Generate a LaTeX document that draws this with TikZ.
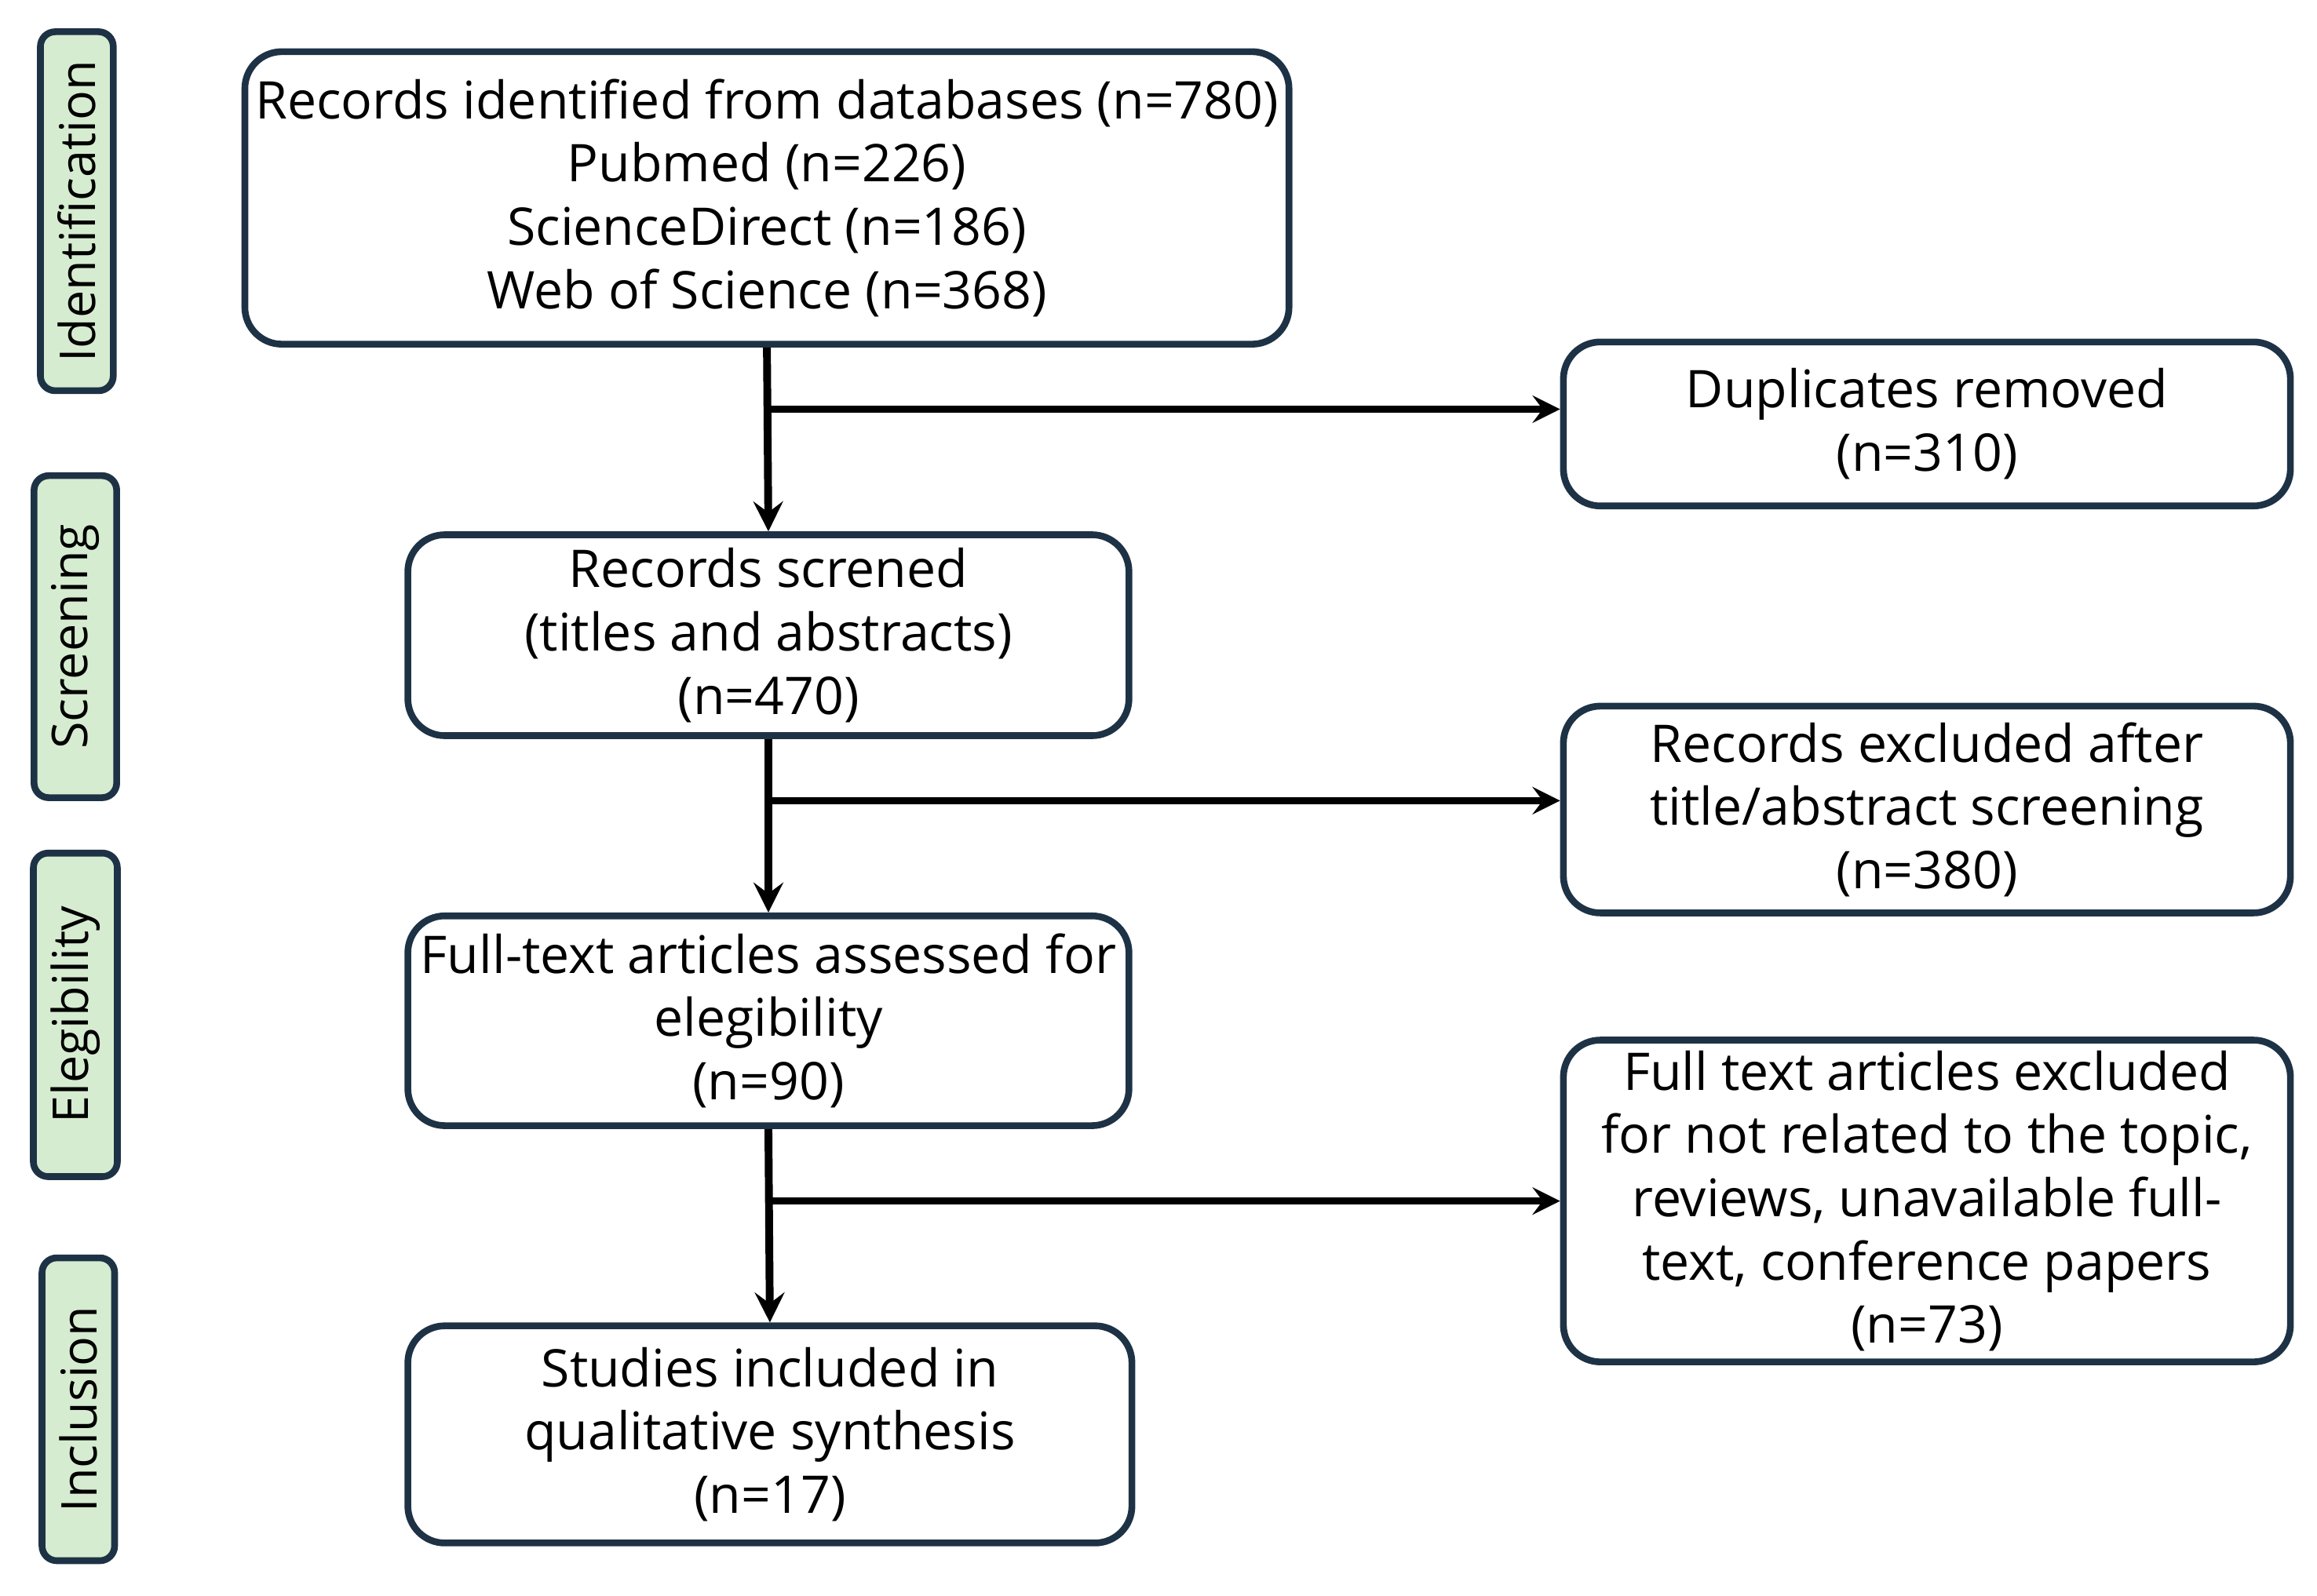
\documentclass[tikz,border=0pt]{standalone}
\usepackage{fontspec}
\setmainfont{Open Sans}
\usepackage{xcolor}
\definecolor{box-line}{RGB}{30,50,70}
\definecolor{phase-fill}{RGB}{214,236,208}
\usetikzlibrary{calc}

\tikzset{
	stagebox/.style={draw=box-line,line width=1.3pt,rounded corners=0.25cm,fill=white,
		align=center,inner sep=2pt,font=\fontsize{10}{12.2}\selectfont},
	phasebox/.style={draw=box-line,line width=1.3pt,rounded corners=0.1cm,fill=phase-fill,
		minimum width=0.73cm,font=\fontsize{9.5}{11}\selectfont,rotate=90},
}

\begin{document}
\begin{tikzpicture}[>=stealth,x=1cm,y=1cm]
	\useasboundingbox (0,0) rectangle (15.68,10.80);
	
	% main column
	\node[stagebox,minimum width=6.98cm,minimum height=1.98cm] (ident) at (5.19,9.46)
		{Records identified from databases (n=780)\\Pubmed (n=226)\\ScienceDirect (n=186)\\Web of Science (n=368)};
	\node[stagebox,minimum width=4.88cm,minimum height=1.36cm] (screen) at (5.20,6.50)
		{Records screned\\(titles and abstracts)\\(n=470)};
	\node[stagebox,minimum width=4.88cm,minimum height=1.42cm] (elig) at (5.20,3.89)
		{Full-text articles assessed for\\elegibility\\(n=90)};
	\node[stagebox,minimum width=4.90cm,minimum height=1.47cm] (incl) at (5.21,1.09)
		{Studies included in\\qualitative synthesis\\(n=17)};
	
	% excluded column
	\node[stagebox,minimum width=4.92cm,minimum height=1.11cm] (dupl) at (13.04,7.93)
		{Duplicates removed\\(n=310)};
	\node[stagebox,minimum width=4.92cm,minimum height=1.40cm] (excl) at (13.04,5.32)
		{Records excluded after\\title/abstract screening\\(n=380)};
	\node[stagebox,minimum width=4.92cm,minimum height=2.17cm] (fexcl) at (13.04,2.67)
		{Full text articles excluded\\for not related to the topic,\\reviews, unavailable full-\\text, conference papers\\(n=73)};
	
	% phase labels
	\node[phasebox,minimum width=2.43cm] (pident) at (0.52,9.37) {Identification};
	\node[phasebox,minimum width=2.18cm] (pscreen) at (0.51,6.49) {Screening};
	\node[phasebox,minimum width=2.19cm] (pelig) at (0.51,3.93) {Elegibility};
	\node[phasebox,minimum width=2.05cm] (pincl) at (0.53,1.26) {Inclusion};
	
	% flow
	\draw[->,line width=1.5pt] (ident.south) -- (screen.north);
	\draw[->,line width=1.5pt] (screen.south) -- (elig.north);
	\draw[->,line width=1.5pt] (elig.south) -- (incl.north);
	
	\draw[->,line width=1.3pt] (ident.south |- dupl.west) ++(0,0.1) coordinate (b1) -- (dupl.west |- b1);
	\draw[->,line width=1.3pt] (screen.south |- excl.west) ++(0,0.06) coordinate (b2) -- (excl.west |- b2);
	\draw[->,line width=1.3pt] (elig.south |- fexcl.west) coordinate (b3) -- (fexcl.west);
	
\end{tikzpicture}
\end{document}
